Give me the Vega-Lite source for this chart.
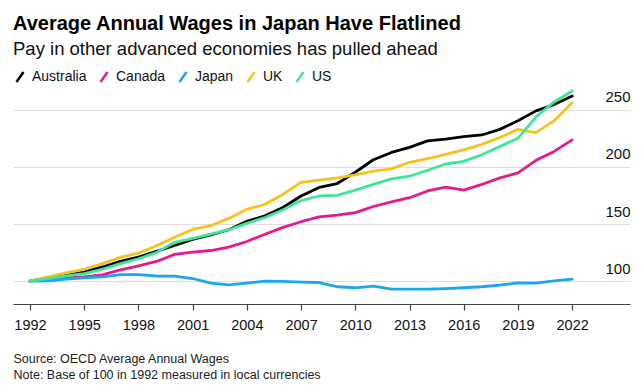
{
  "$schema": "https://vega.github.io/schema/vega-lite/v6.json",
  "width": 644,
  "height": 390,
  "autosize": {"type": "fit", "contains": "padding"},
  "padding": {"left": 13, "right": 14, "top": 12, "bottom": 9},
  "background": "white",
  "config": {"view": {"stroke": null}, "font": "Liberation Sans"},
  "title": {
    "text": "Average Annual Wages in Japan Have Flatlined",
    "subtitle": "Pay in other advanced economies has pulled ahead",
    "anchor": "start",
    "frame": "group",
    "font": "Liberation Sans",
    "fontSize": 20,
    "fontWeight": "bold",
    "color": "#000000",
    "subtitleFont": "Liberation Sans",
    "subtitleFontSize": 18.5,
    "subtitleColor": "#111111",
    "subtitlePadding": 6,
    "offset": 12
  },
  "data": {
    "values": [
      {"year": 1992, "Australia": 100, "Canada": 100, "Japan": 100, "UK": 100, "US": 100},
      {"year": 1993, "Australia": 102.9, "Canada": 101.4, "Japan": 100.3, "UK": 103.7, "US": 102.3},
      {"year": 1994, "Australia": 105.2, "Canada": 102.9, "Japan": 101.7, "UK": 107.2, "US": 104.6},
      {"year": 1995, "Australia": 108, "Canada": 103.7, "Japan": 102.9, "UK": 110.4, "US": 106.6},
      {"year": 1996, "Australia": 112.4, "Canada": 105.5, "Japan": 103.7, "UK": 115.3, "US": 110.4},
      {"year": 1997, "Australia": 117.3, "Canada": 109.8, "Japan": 105.7, "UK": 120.8, "US": 115.3},
      {"year": 1998, "Australia": 121, "Canada": 113.4, "Japan": 105.7, "UK": 124.5, "US": 119.6},
      {"year": 1999, "Australia": 126, "Canada": 117.2, "Japan": 104.5, "UK": 131, "US": 125},
      {"year": 2000, "Australia": 131.2, "Canada": 123.4, "Japan": 104.4, "UK": 138.4, "US": 134},
      {"year": 2001, "Australia": 136.6, "Canada": 125.4, "Japan": 102.3, "UK": 145.2, "US": 137.5},
      {"year": 2002, "Australia": 140.4, "Canada": 126.8, "Japan": 98.3, "UK": 148.5, "US": 141.2},
      {"year": 2003, "Australia": 145, "Canada": 129.7, "Japan": 96.8, "UK": 154.9, "US": 145},
      {"year": 2004, "Australia": 152.3, "Canada": 134.7, "Japan": 98.3, "UK": 162.8, "US": 150.6},
      {"year": 2005, "Australia": 157.2, "Canada": 141, "Japan": 100, "UK": 167.2, "US": 155.7},
      {"year": 2006, "Australia": 164.4, "Canada": 147, "Japan": 99.8, "UK": 175.9, "US": 162.4},
      {"year": 2007, "Australia": 174.5, "Canada": 152, "Japan": 99.2, "UK": 186.5, "US": 170.5},
      {"year": 2008, "Australia": 182, "Canada": 156.3, "Japan": 98.8, "UK": 188.4, "US": 174.5},
      {"year": 2009, "Australia": 185.4, "Canada": 157.7, "Japan": 95.1, "UK": 190.4, "US": 175},
      {"year": 2010, "Australia": 195.3, "Canada": 160, "Japan": 94.2, "UK": 193, "US": 179.7},
      {"year": 2011, "Australia": 206.2, "Canada": 165.3, "Japan": 95.7, "UK": 196.2, "US": 184.6},
      {"year": 2012, "Australia": 212.6, "Canada": 169.3, "Japan": 93.1, "UK": 198.2, "US": 189.5},
      {"year": 2013, "Australia": 217, "Canada": 173, "Japan": 93.1, "UK": 204, "US": 191.8},
      {"year": 2014, "Australia": 222.7, "Canada": 178.9, "Japan": 93.1, "UK": 207.1, "US": 197},
      {"year": 2015, "Australia": 224.2, "Canada": 182.2, "Japan": 93.5, "UK": 210.9, "US": 202.5},
      {"year": 2016, "Australia": 226.5, "Canada": 179.7, "Japan": 94.2, "UK": 214.9, "US": 204.8},
      {"year": 2017, "Australia": 227.9, "Canada": 184.6, "Japan": 95.1, "UK": 219.8, "US": 210.6},
      {"year": 2018, "Australia": 232.8, "Canada": 190.4, "Japan": 96.5, "UK": 225.6, "US": 217.8},
      {"year": 2019, "Australia": 240.4, "Canada": 194.7, "Japan": 98.5, "UK": 232.8, "US": 225},
      {"year": 2020, "Australia": 249, "Canada": 205.7, "Japan": 98.2, "UK": 230, "US": 243.8},
      {"year": 2021, "Australia": 254.5, "Canada": 213.5, "Japan": 100.2, "UK": 240.4, "US": 256.8},
      {"year": 2022, "Australia": 262, "Canada": 223.6, "Japan": 101.7, "UK": 256, "US": 266.4}
    ]
  },
  "transform": [
    {"fold": ["Australia", "Canada", "Japan", "UK", "US"], "as": ["country", "value"]}
  ],
  "mark": {"type": "line", "strokeWidth": 2.8, "strokeJoin": "round", "strokeCap": "round"},
  "encoding": {
    "x": {
      "field": "year",
      "type": "quantitative",
      "scale": {"domain": [1991.06, 2025.2], "nice": false, "zero": false},
      "axis": {
        "values": [1992, 1995, 1998, 2001, 2004, 2007, 2010, 2013, 2016, 2019, 2022],
        "format": "d",
        "grid": false,
        "domainColor": "#444444",
        "domainWidth": 1.2,
        "tickColor": "#444444",
        "tickWidth": 1.2,
        "tickSize": 6,
        "labelFontSize": 14.5,
        "labelColor": "#111111",
        "labelPadding": 8,
        "labelFlush": false,
        "labelOverlap": false,
        "title": ["Source: OECD Average Annual Wages", "Note: Base of 100 in 1992 measured in local currencies"],
        "titleFontSize": 12.5,
        "titleFontWeight": "normal",
        "titleColor": "#222222",
        "titleAnchor": "start",
        "titleAlign": "left",
        "titleBaseline": "top",
        "titlePadding": 21,
        "titleLineHeight": 16
      }
    },
    "y": {
      "field": "value",
      "type": "quantitative",
      "scale": {"domain": [80, 265.5], "nice": false, "zero": false},
      "axis": {
        "orient": "right",
        "values": [100, 150, 200, 250],
        "title": null,
        "domain": false,
        "ticks": false,
        "tickSize": 0,
        "labelAlign": "right",
        "labelPadding": 0,
        "labelBaseline": "alphabetic",
        "labelOffset": -8,
        "labelFontSize": 15,
        "labelColor": "#111111",
        "gridColor": "#dedede",
        "gridWidth": 1.2
      }
    },
    "color": {
      "field": "country",
      "type": "nominal",
      "scale": {
        "domain": ["Australia", "Canada", "Japan", "UK", "US"],
        "range": ["#000000", "#e8198b", "#1ba5f2", "#f7c21c", "#3ee69a"]
      },
      "legend": {
        "orient": "top",
        "direction": "horizontal",
        "title": null,
        "symbolType": "M-0.7,1L0.7,-1",
        "symbolSize": 100,
        "symbolStrokeWidth": 2.5,
        "labelFontSize": 14,
        "labelColor": "#111111",
        "labelOffset": 5,
        "columnPadding": 8,
        "padding": 0,
        "offset": 2
      }
    }
  }
}
